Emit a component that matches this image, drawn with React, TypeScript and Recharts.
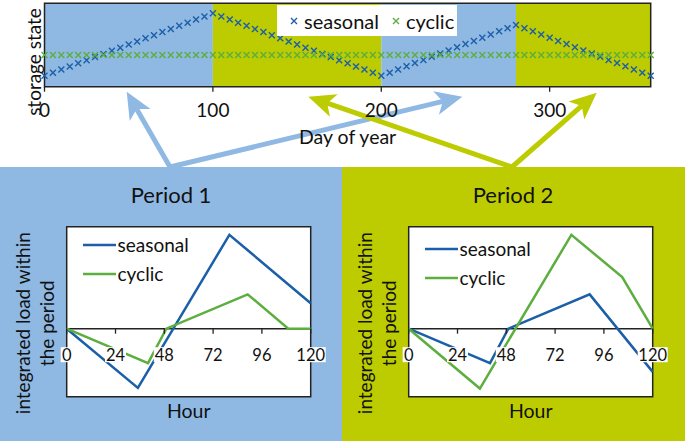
import React from 'react';
import {
  ComposedChart,
  LineChart,
  Line,
  Scatter,
  XAxis,
  YAxis,
  ReferenceArea,
  ReferenceLine,
  ReferenceDot,
  Legend,
  Label,
} from 'recharts';

const FONT = 'Lato, "Noto Sans", sans-serif';
const BLUE_BG = '#8fb9e3';
const GREEN_BG = '#bdcc00';
const SEASONAL = '#1b5fa8';
const CYCLIC = '#5cae3f';
const INK = '#111';

// --- top chart: storage state over the year (one marker every 5 days)
const seriesNames = ['seasonal', 'cyclic'];
const dayOfYear = [
  0, 5, 10, 15, 20, 25, 30, 35, 40, 45, 50, 55, 60, 65, 70, 75, 80, 85, 90, 95, 100,
  105, 110, 115, 120, 125, 130, 135, 140, 145, 150, 155, 160, 165, 170, 175, 180, 185, 190, 195, 200,
  205, 210, 215, 220, 225, 230, 235, 240, 245, 250, 255, 260, 265, 270, 275, 280,
  285, 290, 295, 300, 305, 310, 315, 320, 325, 330, 335, 340, 345, 350, 355, 360,
];
const seasonalStorage = [
  13, 16.8, 20.5, 24.3, 28, 31.8, 35.5, 39.3, 43, 46.8, 50.5, 54.3, 58, 61.8, 65.5, 69.3, 73, 76.8, 80.5, 84.3, 88,
  84.3, 80.5, 76.8, 73, 69.3, 65.5, 61.8, 58, 54.3, 50.5, 46.8, 43, 39.3, 35.5, 31.8, 28, 24.3, 20.5, 16.8, 13,
  16.8, 20.6, 24.4, 28.3, 32.1, 35.9, 39.7, 43.5, 47.3, 51.1, 54.9, 58.8, 62.6, 66.4, 70.2, 74,
  70.2, 66.4, 62.6, 58.8, 54.9, 51.1, 47.3, 43.5, 39.7, 35.9, 32.1, 28.3, 24.4, 20.6, 16.8, 13,
];
const cyclicStorage = [
  38, 38, 38, 38, 38, 38, 38, 38, 38, 38, 38, 38, 38, 38, 38, 38, 38, 38, 38, 38, 38,
  38, 38, 38, 38, 38, 38, 38, 38, 38, 38, 38, 38, 38, 38, 38, 38, 38, 38, 38, 38,
  38, 38, 38, 38, 38, 38, 38, 38, 38, 38, 38, 38, 38, 38, 38, 38,
  38, 38, 38, 38, 38, 38, 38, 38, 38, 38, 38, 38, 38, 38, 38, 38,
];
const yearTicks = [0, 100, 200, 300];
const bandStart = [0, 100, 200, 280];
const bandEnd = [100, 200, 280, 360];
const bandPeriod = [1, 2, 1, 2];

// --- bottom charts: integrated load within a period
const hourTicks = [0, 24, 48, 72, 96, 120];
const p1SeasonalHour = [0, 35, 80, 120];
const p1SeasonalLoad = [0, -1.74, 2.76, 0.75];
const p1CyclicHour = [0, 40, 49, 89, 109, 120];
const p1CyclicLoad = [0, -1.01, 0, 1.01, 0, 0];
const p2SeasonalHour = [0, 40, 49, 89, 120];
const p2SeasonalLoad = [0, -1.01, 0, 1.01, -1.27];
const p2CyclicHour = [0, 35, 80, 105, 120];
const p2CyclicLoad = [0, -1.76, 2.76, 1.52, 0];

const storageRows = dayOfYear.map((day, i) => ({
  day,
  seasonal: seasonalStorage[i],
  cyclic: cyclicStorage[i],
}));
const toRows = (hours: number[], load: number[]) => hours.map((hour, i) => ({ hour, load: load[i] }));

// legend sorts by name by default, put seasonal back first
const inSeriesOrder = (payload: any[] = []) =>
  [...payload].sort((a, b) => seriesNames.indexOf(a.value) - seriesNames.indexOf(b.value));

const XMark = ({ cx, cy, color, size = 3 }: any) => (
  <path
    d={`M${cx - size},${cy - size}L${cx + size},${cy + size}M${cx - size},${cy + size}L${cx + size},${cy - size}`}
    stroke={color}
    strokeWidth={1.4}
    fill="none"
  />
);

const TopLegend = ({ payload }: any) => (
  <div style={{ background: '#fff', width: 180, height: 31, display: 'flex', alignItems: 'center', fontFamily: FONT, fontSize: 20, color: INK }}>
    {inSeriesOrder(payload).map((entry: any) => (
      <div key={entry.value} style={{ display: 'flex', alignItems: 'center', marginLeft: 12 }}>
        <svg width={10} height={10} style={{ marginRight: 5 }}>
          <XMark cx={5} cy={5} color={entry.color} />
        </svg>
        <span>{entry.value}</span>
      </div>
    ))}
  </div>
);

function StorageChart() {
  return (
    <ComposedChart width={685} height={165} data={storageRows} margin={{ top: 3.3, right: 34.3, bottom: 18.3, left: 0 }}>
      <XAxis
        dataKey="day"
        type="number"
        domain={[0, 360]}
        ticks={yearTicks}
        interval={0}
        height={60}
        tickSize={5}
        tickMargin={12}
        axisLine={false}
        tickLine={{ stroke: '#222', strokeWidth: 1.3 }}
        tick={{ fontSize: 19, fill: INK, fontFamily: FONT }}
      >
        <Label
          content={(p: any) => {
            const vb = p.viewBox;
            return (
              <text x={vb.x + vb.width / 2} y={vb.y + 50} textAnchor="middle" dominantBaseline="central" fontSize={19.5} fill={INK} fontFamily={FONT}>
                Day of year
              </text>
            );
          }}
        />
      </XAxis>
      <YAxis type="number" domain={[0, 100]} width={44.5} tick={false} tickLine={false} axisLine={false}>
        <Label
          content={(p: any) => {
            const vb = p.viewBox;
            const cx = vb.x + 33.3;
            const cy = vb.y + vb.height / 2 + 17;
            return (
              <text x={cx} y={cy} transform={`rotate(-90 ${cx} ${cy})`} textAnchor="middle" dominantBaseline="central" fontSize={19} fill={INK} fontFamily={FONT}>
                storage state
              </text>
            );
          }}
        />
      </YAxis>
      {bandStart.map((s, i) => (
        <ReferenceArea
          key={s}
          x1={s}
          x2={bandEnd[i]}
          y1={0}
          y2={100}
          fill={bandPeriod[i] === 1 ? BLUE_BG : GREEN_BG}
          fillOpacity={1}
          stroke="none"
        />
      ))}
      <ReferenceArea x1={0} x2={360} y1={0} y2={100} fill="none" stroke="#222" strokeWidth={1.5} />
      <Scatter name="seasonal" dataKey="seasonal" fill={SEASONAL} isAnimationActive={false} shape={(p: any) => <XMark cx={p.cx} cy={p.cy} color={SEASONAL} />} />
      <Scatter name="cyclic" dataKey="cyclic" fill={CYCLIC} isAnimationActive={false} shape={(p: any) => <XMark cx={p.cx} cy={p.cy} color={CYCLIC} />} />
      <Legend
        layout="horizontal"
        verticalAlign="middle"
        align="center"
        wrapperStyle={{ left: 277, top: 5, width: 180, height: 31 }}
        content={(p: any) => <TopLegend payload={p.payload} />}
      />
    </ComposedChart>
  );
}

const HourTick = ({ cx, cy, value }: any) => {
  const w = String(value).length * 9 + 3;
  return (
    <g>
      <line x1={cx} y1={cy} x2={cx} y2={cy + 5} stroke="#222" strokeWidth={1.3} />
      <rect x={cx - w / 2} y={cy + 18.5} width={w} height={15} fill="#fff" />
      <text x={cx} y={cy + 26} textAnchor="middle" dominantBaseline="central" fontSize={16.5} fill={INK} fontFamily={FONT}>
        {value}
      </text>
    </g>
  );
};

const LineLegend = ({ payload }: any) => (
  <div style={{ fontFamily: FONT, fontSize: 19, color: INK }}>
    {inSeriesOrder(payload).map((entry: any) => (
      <div key={entry.value} style={{ display: 'flex', alignItems: 'center', height: 29 }}>
        <svg width={33} height={6} style={{ marginRight: 2 }}>
          <line x1={0} y1={3} x2={33} y2={3} stroke={entry.color} strokeWidth={2.5} />
        </svg>
        <span>{entry.value}</span>
      </div>
    ))}
  </div>
);

function PeriodPanel({ left, width, bg, title, seasonal, cyclic, legendTop }: any) {
  return (
    <div style={{ position: 'absolute', left, top: 167, width, height: 274, background: bg }}>
      <div style={{ position: 'absolute', left: 0, width: 342, top: 14, textAlign: 'center', fontSize: 22, color: INK, fontFamily: FONT, lineHeight: '28px' }}>
        {title}
      </div>
      <LineChart width={342} height={274} margin={{ top: 59.7, right: 31.3, bottom: 0, left: 0 }}>
        <XAxis dataKey="hour" type="number" domain={[0, 120]} height={44.3} tick={false} tickLine={false} axisLine={false}>
          <Label
            content={(p: any) => {
              const vb = p.viewBox;
              return (
                <text x={vb.x + vb.width / 2} y={vb.y + 13.5} textAnchor="middle" dominantBaseline="central" fontSize={19.5} fill={INK} fontFamily={FONT}>
                  Hour
                </text>
              );
            }}
          />
        </XAxis>
        <YAxis type="number" domain={[-2, 3]} width={66.7} tick={false} tickLine={false} axisLine={false}>
          <Label
            content={(p: any) => {
              const vb = p.viewBox;
              const cy = vb.y + vb.height / 2 + 11.5;
              return (
                <g>
                  {['integrated load within', 'the period'].map((line, i) => {
                    const cx = vb.x + 22.8 + i * 23.4;
                    return (
                      <text key={line} x={cx} y={cy} transform={`rotate(-90 ${cx} ${cy})`} textAnchor="middle" dominantBaseline="central" fontSize={19} fill={INK} fontFamily={FONT}>
                        {line}
                      </text>
                    );
                  })}
                </g>
              );
            }}
          />
        </YAxis>
        <ReferenceArea x1={0} x2={120} y1={-2} y2={3} fill="#fff" fillOpacity={1} stroke="#222" strokeWidth={1.5} />
        <ReferenceLine y={0} stroke="#222" strokeWidth={1.5} />
        <Line name="seasonal" data={seasonal} dataKey="load" stroke={SEASONAL} strokeWidth={2.5} dot={false} isAnimationActive={false} />
        <Line name="cyclic" data={cyclic} dataKey="load" stroke={CYCLIC} strokeWidth={2.5} dot={false} isAnimationActive={false} />
        {hourTicks.map((h) => (
          <ReferenceDot key={h} x={h} y={0} r={0} ifOverflow="visible" shape={(p: any) => <HourTick cx={p.cx} cy={p.cy} value={h} />} />
        ))}
        <Legend
          layout="horizontal"
          verticalAlign="middle"
          align="center"
          wrapperStyle={{ left: 82.5, top: legendTop, width: 140 }}
          content={(p: any) => <LineLegend payload={p.payload} />}
        />
      </LineChart>
    </div>
  );
}

const Arrow = ({ x1, y1, x2, y2, color }: any) => {
  const dx = x2 - x1;
  const dy = y2 - y1;
  const len = Math.hypot(dx, dy);
  const ux = dx / len;
  const uy = dy / len;
  const px = -uy;
  const py = ux;
  const head = 27;
  const half = 12;
  const notch = 20;
  const bx = x2 - ux * head;
  const by = y2 - uy * head;
  const nx = x2 - ux * notch;
  const ny = y2 - uy * notch;
  return (
    <g>
      <line x1={x1} y1={y1} x2={nx} y2={ny} stroke={color} strokeWidth={5} />
      <polygon points={`${x2},${y2} ${bx + px * half},${by + py * half} ${nx},${ny} ${bx - px * half},${by - py * half}`} fill={color} />
    </g>
  );
};

export default function App() {
  return (
    <div style={{ position: 'absolute', left: 0, top: 0, width: 685, height: 441, background: '#fff', overflow: 'hidden', fontFamily: FONT }}>
      <PeriodPanel
        left={0}
        width={342}
        bg={BLUE_BG}
        title="Period 1"
        seasonal={toRows(p1SeasonalHour, p1SeasonalLoad)}
        cyclic={toRows(p1CyclicHour, p1CyclicLoad)}
        legendTop={63}
      />
      <PeriodPanel
        left={342}
        width={343}
        bg={GREEN_BG}
        title="Period 2"
        seasonal={toRows(p2SeasonalHour, p2SeasonalLoad)}
        cyclic={toRows(p2CyclicHour, p2CyclicLoad)}
        legendTop={67}
      />
      <svg width={685} height={441} style={{ position: 'absolute', left: 0, top: 0 }}>
        <Arrow x1={170} y1={167} x2={126.7} y2={91.7} color={BLUE_BG} />
        <Arrow x1={170} y1={167} x2={462.3} y2={96.7} color={BLUE_BG} />
        <Arrow x1={512} y1={167} x2={308.3} y2={96.7} color={GREEN_BG} />
        <Arrow x1={512} y1={167} x2={596.7} y2={92.7} color={GREEN_BG} />
      </svg>
      <div style={{ position: 'absolute', left: 0, top: 0 }}>
        <StorageChart />
      </div>
    </div>
  );
}
